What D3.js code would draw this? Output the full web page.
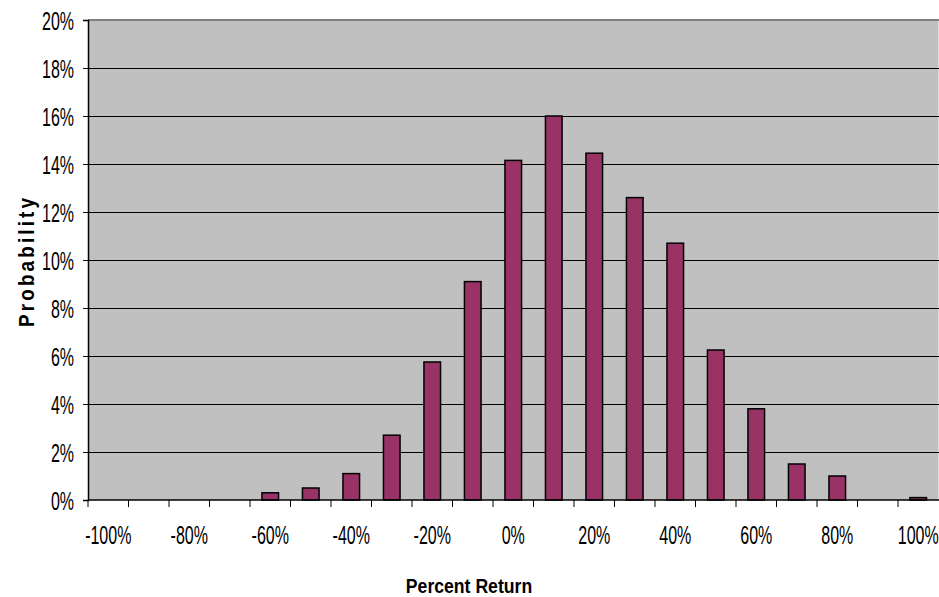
<!DOCTYPE html>
<html>
<head>
<meta charset="utf-8">
<script src="https://cdn.jsdelivr.net/npm/d3@7"></script>
<style>
  body { margin: 0; background: #ffffff; }
  svg { display: block; }
  text { font-family: "Liberation Sans", Arial, sans-serif; fill: #000; }
</style>
</head>
<body>
<svg id="chart" width="939" height="597"></svg>
<script>
const categories = ["-100%","-90%","-80%","-70%","-60%","-50%","-40%","-30%","-20%","-10%","0%","10%","20%","30%","40%","50%","60%","70%","80%","90%","100%"];
const probabilities = [0, 0, 0, 0, 0.3, 0.5, 1.1, 2.7, 5.75, 9.1, 14.15, 16.0, 14.45, 12.6, 10.7, 6.25, 3.8, 1.5, 1.0, 0, 0.1];
const yTicks = [0, 2, 4, 6, 8, 10, 12, 14, 16, 18, 20];
const xTickLabels = ["-100%","-80%","-60%","-40%","-20%","0%","20%","40%","60%","80%","100%"];
const xTitle = "Percent Return";
const yTitle = "Probability";

const svg = d3.select("#chart");
const mLeft = 88, mRight = 938.5, mTop = 20, mBottom = 500;

const x = d3.scaleBand().domain(categories).range([mLeft, mRight]).paddingInner(0.59).paddingOuter(0.295);
const y = d3.scaleLinear().domain([0, 20]).range([mBottom, mTop]);

// plot background
svg.append("rect").attr("x", mLeft).attr("y", mTop).attr("width", mRight - mLeft).attr("height", mBottom - mTop)
  .attr("fill", "#c0c0c0");

// gridlines
svg.append("g").selectAll("line").data(yTicks.filter(d => d > 0 && d < 20)).join("line")
  .attr("x1", mLeft).attr("x2", 939).attr("y1", d => y(d)).attr("y2", d => y(d))
  .attr("stroke", "#000").attr("stroke-width", 1).attr("shape-rendering", "crispEdges");
// top border
svg.append("line").attr("x1", mLeft).attr("x2", 939).attr("y1", y(20)).attr("y2", y(20))
  .attr("stroke", "#808080").attr("stroke-width", 2);

// bars
svg.append("g").selectAll("rect").data(categories.map((c, i) => ({c, v: probabilities[i]})).filter(d => d.v > 0)).join("rect")
  .attr("x", d => x(d.c)).attr("width", x.bandwidth())
  .attr("y", d => y(d.v)).attr("height", d => y(0) - y(d.v))
  .attr("fill", "#993366").attr("stroke", "#000").attr("stroke-width", 1.5);

// y axis
const yAxis = d3.axisLeft(y).tickValues(yTicks).tickSize(5).tickFormat(d => d + "%");
const gy = svg.append("g").attr("transform", `translate(${mLeft},0)`).call(yAxis);
gy.select(".domain").attr("stroke", "#000").attr("stroke-width", 1.5);
gy.selectAll(".tick line").attr("stroke", "#000");
gy.selectAll(".tick text").attr("font-size", 20).attr("x", 0).attr("dy", null)
  .attr("dominant-baseline", "central")
  .attr("transform", "translate(-14,0) scale(0.8,1.32)")
  .attr("font-family", "'Liberation Sans',Arial,sans-serif");

// x axis
const gx = svg.append("g").attr("transform", `translate(0,${mBottom})`);
gx.append("line").attr("x1", mLeft).attr("x2", 939).attr("y1", 0).attr("y2", 0).attr("stroke", "#000").attr("stroke-width", 1.5);
gx.selectAll("line.tk").data(categories).join("line").attr("class", "tk")
  .attr("x1", d => x(d) - x.step() * x.paddingInner() / 2).attr("x2", d => x(d) - x.step() * x.paddingInner() / 2)
  .attr("y1", 0).attr("y2", 7).attr("stroke", "#000").attr("stroke-width", 1);
gx.selectAll("text").data(xTickLabels).join("text")
  .attr("transform", d => `translate(${x(d) + x.bandwidth() / 2},35) scale(0.8,1.32)`)
  .attr("text-anchor", "middle").attr("dominant-baseline", "central")
  .attr("font-size", 20).text(d => d);

// axis titles
svg.append("text").attr("transform", "translate(469,593) scale(0.84,1)").attr("text-anchor", "middle")
  .attr("font-size", 21).attr("font-weight", "bold").text(xTitle);
svg.append("text").attr("transform", "translate(33.5,262.5) rotate(-90) scale(0.84,1)").attr("text-anchor", "middle")
  .attr("font-size", 22.5).attr("font-weight", "bold")
  .attr("textLength", 153.6).attr("lengthAdjust", "spacing").text(yTitle);
</script>
</body>
</html>
